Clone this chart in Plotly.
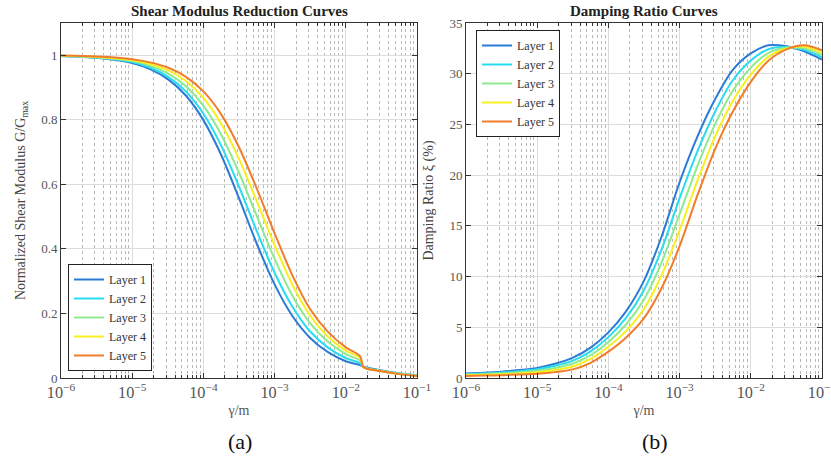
import plotly.graph_objects as go

# ---------------- data ----------------
layers = ["Layer 1", "Layer 2", "Layer 3", "Layer 4", "Layer 5"]
colors = ["#2a7ad6", "#27dcef", "#8fea8f", "#f8ef1f", "#f07c2c"]

# shear modulus reduction (log10 strain exponents)
g_strain_exp = [-6, -5.5, -5, -4.75, -4.5, -4.25, -4, -3.75, -3.5, -3.25, -3,
                -2.75, -2.5, -2.25, -2, -1.8, -1.75, -1.5, -1.25, -1]
g_layer1 = [0.998, 0.992, 0.976, 0.957, 0.926, 0.876, 0.799, 0.691, 0.557, 0.416, 0.290,
            0.192, 0.124, 0.080, 0.052, 0.040, 0.035, 0.023, 0.014, 0.008]
g_layer2 = [0.998, 0.993, 0.979, 0.962, 0.934, 0.889, 0.819, 0.720, 0.593, 0.455, 0.326,
            0.221, 0.144, 0.094, 0.062, 0.046, 0.034, 0.022, 0.013, 0.007]
g_layer3 = [0.998, 0.994, 0.982, 0.968, 0.944, 0.905, 0.844, 0.754, 0.636, 0.502, 0.369,
            0.255, 0.169, 0.112, 0.074, 0.054, 0.034, 0.022, 0.013, 0.007]
g_layer4 = [0.999, 0.995, 0.985, 0.973, 0.954, 0.921, 0.868, 0.788, 0.679, 0.548, 0.412,
            0.289, 0.193, 0.128, 0.085, 0.062, 0.033, 0.021, 0.012, 0.0065]
g_layer5 = [0.999, 0.996, 0.988, 0.978, 0.962, 0.934, 0.888, 0.817, 0.715, 0.587, 0.448,
            0.318, 0.213, 0.143, 0.095, 0.068, 0.033, 0.021, 0.012, 0.006]

# damping ratio (%)
d_strain_exp = [-6, -5.75, -5.5, -5.25, -5, -4.75, -4.5, -4.25, -4, -3.75, -3.5,
                -3.25, -3, -2.75, -2.5, -2.25, -2, -1.75, -1.5, -1.25, -1]
d_layer1 = [0.45, 0.52, 0.62, 0.78, 1.0, 1.4, 2.0, 3.0, 4.5, 6.6, 9.6,
            14.0, 19.3, 23.8, 27.5, 30.4, 32.0, 32.8, 32.7, 32.2, 31.4]
d_layer2 = [0.39, 0.45, 0.54, 0.67, 0.86, 1.2, 1.71, 2.63, 4.03, 5.95, 8.68,
            12.73, 17.73, 22.35, 26.28, 29.38, 31.3, 32.43, 32.63, 32.35, 31.63]
d_layer3 = [0.33, 0.38, 0.45, 0.56, 0.71, 0.99, 1.43, 2.25, 3.55, 5.3, 7.75,
            11.45, 16.15, 20.9, 25.05, 28.35, 30.6, 32.05, 32.55, 32.5, 31.85]
d_layer4 = [0.26, 0.31, 0.37, 0.45, 0.57, 0.79, 1.14, 1.88, 3.08, 4.65, 6.83,
            10.18, 14.58, 19.45, 23.83, 27.33, 29.9, 31.68, 32.48, 32.65, 32.08]
d_layer5 = [0.20, 0.24, 0.28, 0.34, 0.42, 0.58, 0.85, 1.5, 2.6, 4.0, 5.9,
            8.9, 13.0, 18.0, 22.6, 26.3, 29.2, 31.3, 32.4, 32.8, 32.3]

g_series = [g_layer1, g_layer2, g_layer3, g_layer4, g_layer5]
d_series = [d_layer1, d_layer2, d_layer3, d_layer4, d_layer5]
g_strain = [10 ** e for e in g_strain_exp]
d_strain = [10 ** e for e in d_strain_exp]

FONT = "Liberation Serif"
W, H = 831, 461


def px(p):
    return p / W


def py(p):
    return 1 - p / H


fig = go.Figure()

for name, c, ys in zip(layers, colors, g_series):
    fig.add_trace(go.Scatter(x=g_strain, y=ys, name=name, mode="lines",
                             line=dict(color=c, width=2, shape="spline", smoothing=0.8),
                             xaxis="x", yaxis="y", legend="legend"))
for name, c, ys in zip(layers, colors, d_series):
    fig.add_trace(go.Scatter(x=d_strain, y=ys, name=name, mode="lines",
                             line=dict(color=c, width=2, shape="spline", smoothing=0.8),
                             xaxis="x2", yaxis="y2", legend="legend2"))

y_dom = [py(378), py(23)]


def xax(dom, anchor):
    return dict(type="log", range=[-6, -1], domain=dom, dtick=1, exponentformat="power",
                anchor=anchor,
                showline=True, mirror="ticks", linecolor="#333", linewidth=1,
                ticks="inside", ticklen=5, tickcolor="#333",
                showgrid=True, gridcolor="#dcdcdc", gridwidth=1,
                minor=dict(ticks="inside", ticklen=3, tickcolor="#333", dtick="D1",
                           showgrid=True, gridcolor="#b8b8b8", griddash="dot", gridwidth=1),
                tickfont=dict(family=FONT, size=13, color="#555"),
                ticklabeloverflow="allow",
                title=dict(text="γ/m", font=dict(family=FONT, size=14, color="#555"), standoff=4),
                zeroline=False, automargin=False)


def yax(anchor, rng, dt, title):
    return dict(range=rng, domain=y_dom, dtick=dt, anchor=anchor,
                showline=True, mirror="ticks", linecolor="#333", linewidth=1,
                ticks="inside", ticklen=5, tickcolor="#333",
                showgrid=True, gridcolor="#dcdcdc", gridwidth=1,
                tickfont=dict(family=FONT, size=13, color="#555"),
                title=dict(text=title, font=dict(family=FONT, size=14, color="#444"), standoff=12),
                zeroline=False, automargin=False)


fig.update_layout(
    width=W, height=H,
    margin=dict(l=0, r=0, t=0, b=0),
    paper_bgcolor="white", plot_bgcolor="white",
    font=dict(family=FONT, color="#333"),
    xaxis=xax([px(61), px(417)], "y"),
    yaxis=yax("x", [0, 1.1], 0.2, "Normalized Shear Modulus G/G<sub>max</sub>"),
    xaxis2=xax([px(466), px(822)], "y2"),
    yaxis2=yax("x2", [0, 35], 5, "Damping Ratio ξ (%)"),
    legend=dict(x=px(68), y=py(371), xanchor="left", yanchor="bottom",
                bgcolor="white", bordercolor="#222", borderwidth=1,
                font=dict(family=FONT, size=12, color="#333"), tracegroupgap=0),
    legend2=dict(x=px(476), y=py(30), xanchor="left", yanchor="top",
                 bgcolor="white", bordercolor="#222", borderwidth=1,
                 font=dict(family=FONT, size=12, color="#333"), tracegroupgap=0),
    annotations=[
        dict(text="<b>Shear Modulus Reduction Curves</b>", x=px((61 + 417) / 2), y=py(11),
             xref="paper", yref="paper", showarrow=False, xanchor="center", yanchor="middle",
             font=dict(family=FONT, size=15, color="#222")),
        dict(text="<b>Damping Ratio Curves</b>", x=px((466 + 822) / 2), y=py(11),
             xref="paper", yref="paper", showarrow=False, xanchor="center", yanchor="middle",
             font=dict(family=FONT, size=15, color="#222")),
        dict(text="(a)", x=px(240), y=py(441), xref="paper", yref="paper",
             showarrow=False, xanchor="center", yanchor="middle",
             font=dict(family=FONT, size=22, color="#111")),
        dict(text="(b)", x=px(655), y=py(441), xref="paper", yref="paper",
             showarrow=False, xanchor="center", yanchor="middle",
             font=dict(family=FONT, size=22, color="#111")),
    ],
)

fig.write_html("out.html", config={"displayModeBar": False},
               post_script="document.body.style.margin='0px';")
